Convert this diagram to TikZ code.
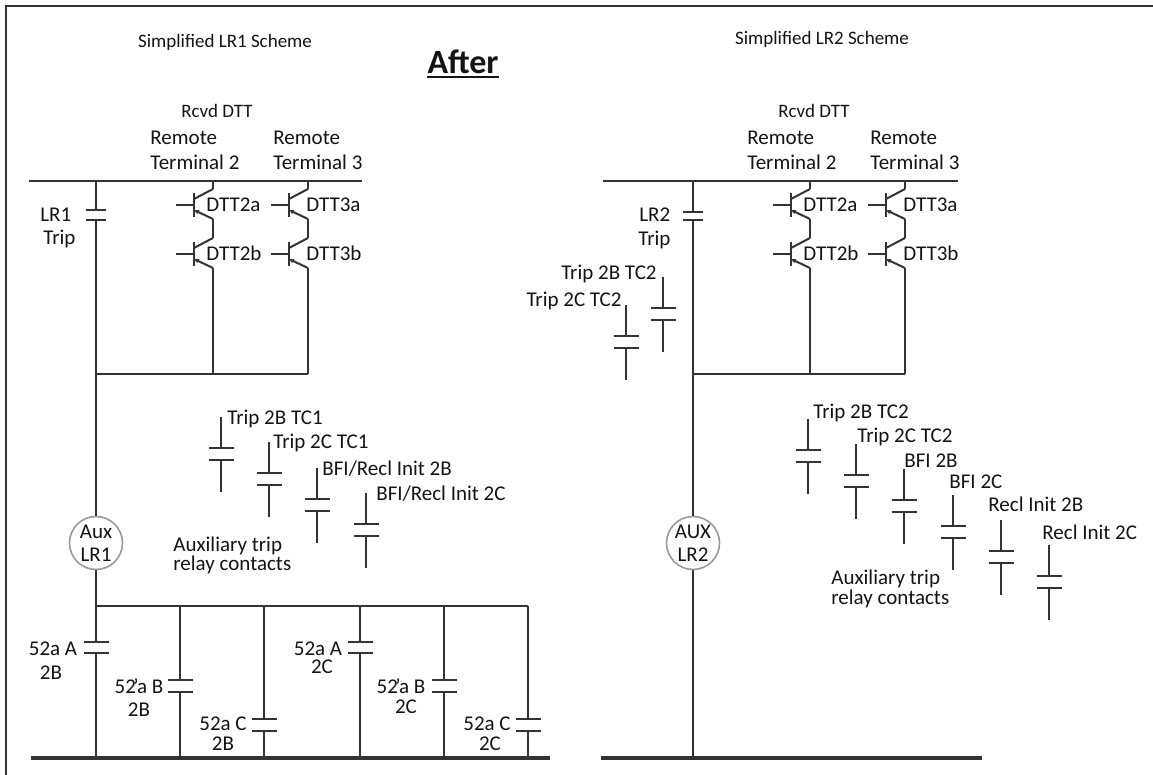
\documentclass[tikz,border=0pt]{standalone}
\usepackage{fontspec}
\setmainfont{Carlito}
\usetikzlibrary{arrows.meta}
\definecolor{wirec}{HTML}{333333}
\definecolor{textc}{HTML}{141414}
\definecolor{circc}{HTML}{9A9A9A}
% transistor: #1 name, #2 column x, #3 centre y, #4 label, #5 label offset
\newcommand\mytrans[5]{%
  \coordinate (#1c) at (#2,#3-16);
  \coordinate (#1e) at (#2,#3+14);
  \coordinate (#1bt) at (#2-19,#3-12);
  \coordinate (#1bb) at (#2-19,#3+12);
  \coordinate (#1in) at (#2-37,#3);
  \coordinate (#1bm) at (#2-19,#3);
  \coordinate (#1ck) at (#2-19,#3-6);
  \coordinate (#1ek) at (#2-19,#3+5);
  \draw[wire,line width=1.25pt] (#1bt) -- (#1bb);
  \draw[wire] (#1in) -- (#1bm);
  \draw[wire] (#1c) -- (#1ck);
  \draw[wire,-{Stealth[length=2.6pt,width=2.4pt]}] (#1e) -- (#1ek);
  \node[txt,anchor=base west] (#1l) at (#2-#5,#3+7) {#4};
}
% contact: #1 half width, #2 name, #3 x, #4 top, #5 plate1, #6 plate2, #7 bottom
\newcommand\mycontact[7][6.25pt]{%
  \coordinate (#2t) at (#3,#4);
  \coordinate (#2p) at (#3,#5);
  \coordinate (#2q) at (#3,#6);
  \coordinate (#2b) at (#3,#7);
  \draw[wire] (#2t) -- (#2p);
  \draw[wire] ([xshift=-#1]#2p) -- ([xshift=#1]#2p);
  \draw[wire] ([xshift=-#1]#2q) -- ([xshift=#1]#2q);
  \draw[wire] (#2q) -- (#2b);
}
\newcommand\auxcontact[3]{\mycontact{#1}{#2}{#3}{#3+31}{#3+43}{#3+75}}
% shared DTT block: #1 prefix, #2 x shift
\newcommand\dttblock[2]{%
  \node[txt,anchor=base west] (#1r2a) at (150+#2,145) {Remote};
  \node[txt,anchor=base west] (#1r2b) at (150+#2,170) {Terminal 2};
  \node[txt,anchor=base west] (#1r3a) at (273+#2,145) {Remote};
  \node[txt,anchor=base west] (#1r3b) at (273+#2,170) {Terminal 3};
  \node[ttl,anchor=base] (#1rcvd) at (217+#2,118) {Rcvd DTT};
  \mytrans{#1ta}{213+#2}{205}{DTT2a}{7}
  \mytrans{#1tb}{213+#2}{254}{DTT2b}{7}
  \mytrans{#1tc}{308+#2}{205}{DTT3a}{2}
  \mytrans{#1td}{308+#2}{254}{DTT3b}{2}
  \coordinate (#1b2) at (213+#2,181);
  \coordinate (#1b3) at (308+#2,181);
  \coordinate (#1j2) at (213+#2,374);
  \coordinate (#1j3) at (308+#2,374);
  \draw[wire] (#1b2) -- (#1tac);
  \draw[wire] (#1tae) -- (#1tbc);
  \draw[wire] (#1tbe) -- (#1j2);
  \draw[wire] (#1b3) -- (#1tcc);
  \draw[wire] (#1tce) -- (#1tdc);
  \draw[wire] (#1tde) -- (#1j3);
}
\begin{document}
\begin{tikzpicture}[x=0.5pt,y=-0.5pt,
  wire/.style={draw=wirec,line width=1pt},
  busl/.style={draw=wirec,line width=1.2pt},
  bbus/.style={draw=wirec,line width=1.6pt},
  txt/.style={font=\fontsize{10.5}{12}\selectfont,text=textc,inner sep=0pt},
  ttl/.style={font=\fontsize{9.5}{11}\selectfont,text=textc,inner sep=0pt},
  hdr/.style={font=\fontsize{17}{20}\selectfont\bfseries,text=textc,inner sep=0pt},
  relay/.style={circle,draw=circc,line width=0.8pt,minimum size=26.5pt,inner sep=0pt,
    align=center,font=\fontsize{10.5}{11.5}\selectfont,text=textc,fill=white}]
\useasboundingbox (0,0) rectangle (1153,775);
\fill[white] (0,0) rectangle (1153,775);
% frame
\draw[draw=wirec,line width=1.3pt] (6,775) -- (6,6) -- (1153,6);

% titles
\node[ttl,anchor=base] (t1) at (225,48) {Simplified LR1 Scheme};
\node[ttl,anchor=base] (t2) at (822,45) {Simplified LR2 Scheme};
\node[hdr,anchor=base] (after) at (463,74) {After};
\draw[textc,line width=1.1pt] ([yshift=-1.6pt]after.base west) -- ([yshift=-1.6pt]after.base east);

% ---------------- LR1 scheme ----------------
\coordinate (Lbus0) at (29,181);
\coordinate (Lbus1) at (362,181);
\draw[busl] (Lbus0) -- (Lbus1);
\dttblock{L}{0}
\mycontact[5pt]{lr1}{96}{181}{210}{220}{374}
\node[txt,anchor=base west] (lbLRa) at (40,222) {LR1};
\node[txt,anchor=base west] (lbLRb) at (43,245) {Trip};
\draw[wire] (lr1b) -- (Lj3);
\node[relay] (aux1) at (96,543) {Aux\\LR1};
\draw[wire] (lr1b) -- (aux1);
% aux trip relay contacts
\auxcontact{a1}{221}{417}
\auxcontact{a2}{269}{442}
\auxcontact{a3}{317}{468}
\auxcontact{a4}{366}{493}
\node[txt,anchor=base west] (a1l) at (227,425) {Trip 2B TC1};
\node[txt,anchor=base west] (a2l) at (273,449) {Trip 2C TC1};
\node[txt,anchor=base west] (a3l) at (322,476) {BFI/Recl Init 2B};
\node[txt,anchor=base west] (a4l) at (376,501) {BFI/Recl Init 2C};
\node[txt,anchor=base west] (ax1) at (173,552) {Auxiliary trip};
\node[txt,anchor=base west] (ax2) at (173,571) {relay contacts};
% 52a contacts
\mycontact{c1}{96}{606}{642}{653}{758}
\mycontact{c2}{180}{606}{680}{692}{758}
\mycontact{c3}{264}{606}{719}{731}{758}
\mycontact{c4}{360}{606}{642}{653}{758}
\mycontact{c5}{444}{606}{680}{692}{758}
\mycontact{c6}{528}{606}{719}{731}{758}
\draw[wire] (aux1) -- (c1t);
\draw[wire] (c1t) -- (c6t);
\coordinate (Lbb0) at (31,758);
\coordinate (Lbb1) at (550,758);
\draw[bbus] (Lbb0) -- (Lbb1);
\node[txt,anchor=base] (c1a) at (53,655) {52a A};
\node[txt,anchor=base] (c1c) at (51,679) {2B};
\node[txt,anchor=base] (c2a) at (139,693) {52\kern-0.12em’a B};
\node[txt,anchor=base] (c2c) at (139,717) {2B};
\node[txt,anchor=base] (c3a) at (223,730) {52a C};
\node[txt,anchor=base] (c3c) at (223,750) {2B};
\node[txt,anchor=base] (c4a) at (318,655) {52a A};
\node[txt,anchor=base] (c4c) at (322,674) {2C};
\node[txt,anchor=base] (c5a) at (401,693) {52\kern-0.12em’a B};
\node[txt,anchor=base] (c5c) at (406,713) {2C};
\node[txt,anchor=base] (c6a) at (487,730) {52a C};
\node[txt,anchor=base] (c6c) at (490,750) {2C};

% ---------------- LR2 scheme ----------------
\coordinate (Rbus0) at (603,181);
\coordinate (Rbus1) at (958,181);
\draw[busl] (Rbus0) -- (Rbus1);
\dttblock{R}{597}
\mycontact[5pt]{lr2}{693}{181}{212}{220}{374}
\node[txt,anchor=base west] (lbRRa) at (639,222) {LR2};
\node[txt,anchor=base west] (lbRRb) at (638,246) {Trip};
\draw[wire] (lr2b) -- (Rj3);
\node[relay] (aux2) at (693,543) {AUX\\LR2};
\draw[wire] (lr2b) -- (aux2);
\coordinate (Rbb0) at (601,758);
\coordinate (Rbb1) at (982,758);
\coordinate (Rbbj) at (693,758);
\draw[wire] (aux2) -- (Rbbj);
\draw[bbus] (Rbb0) -- (Rbb1);
% TC2 contacts beside LR2 line
\auxcontact{s1}{663}{277}
\auxcontact{s2}{626}{305}
\node[txt,anchor=base east] (s1l) at (657,280) {Trip 2B TC2};
\node[txt,anchor=base east] (s2l) at (622,307) {Trip 2C TC2};
% aux trip relay contacts
\auxcontact{b1}{808}{419}
\auxcontact{b2}{856}{444}
\auxcontact{b3}{904}{469}
\auxcontact{b4}{953}{495}
\auxcontact{b5}{1001}{520}
\auxcontact{b6}{1049}{545}
\node[txt,anchor=base west] (b1l) at (813,419) {Trip 2B TC2};
\node[txt,anchor=base west] (b2l) at (857,443) {Trip 2C TC2};
\node[txt,anchor=base west] (b3l) at (904,468) {BFI 2B};
\node[txt,anchor=base west] (b4l) at (949,489) {BFI 2C};
\node[txt,anchor=base west] (b5l) at (988,512) {Recl Init 2B};
\node[txt,anchor=base west] (b6l) at (1042,539) {Recl Init 2C};
\node[txt,anchor=base west] (bx1) at (831,585) {Auxiliary trip};
\node[txt,anchor=base west] (bx2) at (831,604) {relay contacts};
\end{tikzpicture}
\end{document}
